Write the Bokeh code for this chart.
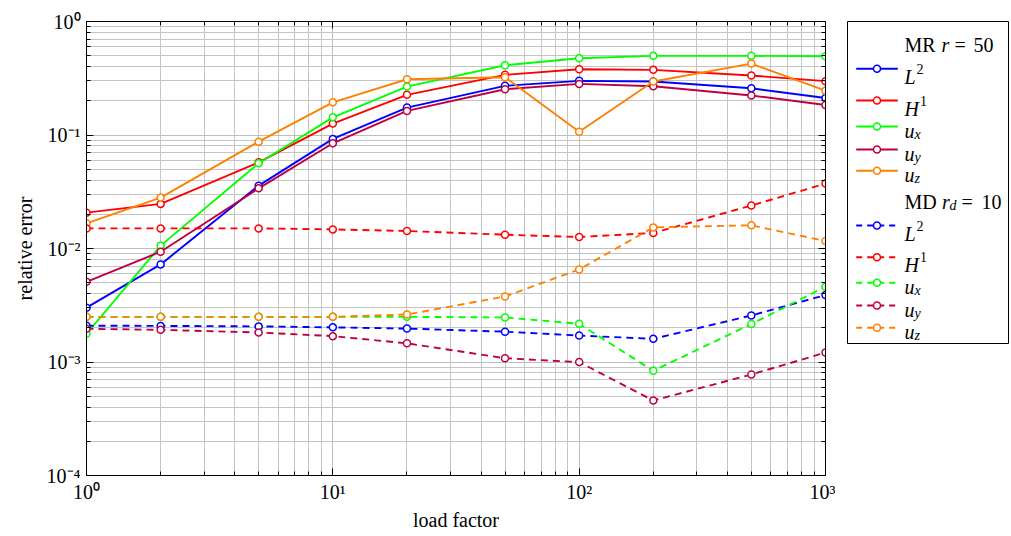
from bokeh.plotting import figure
from bokeh.models import Range1d, LogAxis, FixedTicker, CustomJSTickFormatter
from bokeh.layouts import row
from bokeh.embed import file_html
from bokeh.resources import INLINE
from bokeh.core.properties import value

# ---------------- data ----------------
load_factor = [1, 2, 5, 10, 20, 50, 100, 200, 500, 1000]

mr_L2 = [3.01e-3, 7.24e-3, 0.0358, 0.0924, 0.1745, 0.271, 0.300, 0.296, 0.258, 0.212]
mr_H1 = [0.0207, 0.0247, 0.0574, 0.126, 0.226, 0.339, 0.380, 0.375, 0.334, 0.298]
mr_ux = [1.77e-3, 0.0106, 0.0563, 0.143, 0.267, 0.412, 0.475, 0.498, 0.498, 0.494]
mr_uy = [5.09e-3, 9.37e-3, 0.0339, 0.0845, 0.163, 0.253, 0.282, 0.269, 0.223, 0.184]
mr_uz = [0.01665, 0.0281, 0.0874, 0.194, 0.310, 0.323, 0.107, 0.296, 0.426, 0.246]

md_L2 = [2.09e-3, 2.08e-3, 2.06e-3, 2.02e-3, 1.97e-3, 1.85e-3, 1.71e-3, 1.60e-3, 2.57e-3, 3.89e-3]
md_H1 = [0.01504, 0.01504, 0.01504, 0.01473, 0.01426, 0.01323, 0.01263, 0.01370, 0.0239, 0.0373]
md_ux = [2.50e-3, 2.50e-3, 2.50e-3, 2.50e-3, 2.50e-3, 2.47e-3, 2.17e-3, 8.37e-4, 2.16e-3, 4.60e-3]
md_uy = [1.96e-3, 1.92e-3, 1.82e-3, 1.69e-3, 1.46e-3, 1.08e-3, 9.98e-4, 4.58e-4, 7.76e-4, 1.21e-3]
md_uz = [2.50e-3, 2.50e-3, 2.50e-3, 2.50e-3, 2.62e-3, 3.78e-3, 6.54e-3, 0.01535, 0.0160, 0.01164]

x_major = [1, 10, 100, 1000]
x_labels = ["10⁰", "10¹", "10²", "10³"]
y_major = [1e-4, 1e-3, 1e-2, 1e-1, 1]
y_labels = ["10⁻⁴", "10⁻³", "10⁻²", "10⁻¹", "10⁰"]

colors = {"L2": "#0000FF", "H1": "#FF0000", "ux": "#00FF00", "uy": "#BF0040", "uz": "#FF8000"}

mr_series = [("L2", mr_L2), ("H1", mr_H1), ("ux", mr_ux), ("uy", mr_uy), ("uz", mr_uz)]
md_series = [("L2", md_L2), ("H1", md_H1), ("ux", md_ux), ("uy", md_uy), ("uz", md_uz)]

FONT = "Liberation Serif"
DASH = "7 5"
LINE_W = 1.9

# ---------------- main plot ----------------
p = figure(x_axis_type="log", y_axis_type="log",
           x_range=Range1d(1, 1000), y_range=Range1d(1e-4, 1),
           frame_width=739, frame_height=454,
           min_border_left=86, min_border_right=10, min_border_top=20, min_border_bottom=60,
           output_backend="svg", toolbar_location=None,
           x_axis_label="load factor", y_axis_label="relative error")
p.background_fill_color = "white"
p.border_fill_color = "white"
p.outline_line_color = "black"
p.outline_line_width = 1


def minors(majors):
    out = []
    for m in majors[:-1]:
        out += [m * k for k in range(2, 10)]
    return out


xt = FixedTicker(ticks=x_major, minor_ticks=minors(x_major))
yt = FixedTicker(ticks=y_major, minor_ticks=minors(y_major))

p.xaxis.ticker = xt
p.yaxis.ticker = yt
p.xgrid.ticker = xt
p.ygrid.ticker = yt

for g in (p.xgrid, p.ygrid):
    g.grid_line_color = "#bdbdbd"
    g.grid_line_width = 1
    g.minor_grid_line_color = "#c4c4c4"
    g.minor_grid_line_width = 1


def style_axis(ax, font=FONT):
    ax.axis_line_color = "black"
    ax.axis_line_width = 1
    ax.major_tick_in = 7
    ax.major_tick_out = 0
    ax.minor_tick_in = 4
    ax.minor_tick_out = 0
    ax.major_tick_line_color = "black"
    ax.minor_tick_line_color = "black"
    ax.major_label_text_font = font
    ax.major_label_text_color = "black"
    ax.major_label_text_font_size = "20px"
    ax.major_label_standoff = 6
    ax.axis_label_text_font = FONT
    ax.axis_label_text_font_style = "normal"
    ax.axis_label_text_font_size = "20px"
    ax.axis_label_text_color = "black"


xa = p.xaxis[0]
ya = p.yaxis[0]
style_axis(xa)
style_axis(ya)
xa.major_label_overrides = dict(zip(x_major, x_labels))
ya.major_label_overrides = dict(zip(y_major, y_labels))
xa.major_label_standoff = 5
xa.axis_label_standoff = 3
ya.axis_label_standoff = 8

blank = CustomJSTickFormatter(code="return ''")
top = LogAxis(ticker=xt, formatter=blank)
style_axis(top)
top.major_label_standoff = 0
p.add_layout(top, "above")
right = LogAxis(ticker=yt, formatter=blank)
style_axis(right)
right.major_label_standoff = 0
p.add_layout(right, "right")

for name, vals in mr_series:
    c = colors[name]
    p.line(load_factor, vals, line_color=c, line_width=LINE_W)
    p.scatter(load_factor, vals, marker="circle", size=7, line_color=c,
              fill_color="white", line_width=1.5)
for name, vals in md_series:
    c = colors[name]
    p.line(load_factor, vals, line_color=c, line_width=LINE_W, line_dash=DASH)
    p.scatter(load_factor, vals, marker="circle", size=7, line_color=c,
              fill_color="white", line_width=1.5)

# ---------------- legend (separate panel) ----------------
LW, LH = 162, 322
lg = figure(x_range=Range1d(0, LW), y_range=Range1d(0, LH),
            frame_width=LW, frame_height=LH,
            min_border_left=12, min_border_right=0, min_border_top=21, min_border_bottom=191,
            x_axis_type=None, y_axis_type=None,
            output_backend="svg", toolbar_location=None)
lg.background_fill_color = "white"
lg.border_fill_color = "white"
lg.outline_line_color = "black"
lg.outline_line_width = 1
lg.xgrid.visible = False
lg.ygrid.visible = False

# layout constants of the legend (panel pixels from top)
sample_x0, sample_mid, sample_x1 = 8.7, 29.5, 50.3
text_x = 57
row_y_mr = [47.3, 79, 105, 128, 149.3]
row_y_md = [204, 235.7, 261.3, 284, 306.3]
header_y = [23.3, 180.7]

main_sym = {"L2": "L", "H1": "H", "ux": "u", "uy": "u", "uz": "u"}
idx_sym = {"L2": "2", "H1": "1", "ux": "x", "uy": "y", "uz": "z"}


def fy(y):
    return LH - y


def ltext(x, y, t, size="20px", style="normal"):
    lg.text(x=[x], y=[fy(y)], text=[t], text_font=value(FONT), text_font_size=size,
            text_font_style=style, text_baseline="alphabetic", text_align="left",
            text_color="black")


def entry(name, y, dash):
    c = colors[name]
    kw = dict(line_color=c, line_width=LINE_W)
    if dash:
        kw["line_dash"] = "6 5"
    lg.line([sample_x0, sample_x1], [fy(y), fy(y)], **kw)
    lg.scatter([sample_mid], [fy(y)], marker="circle", size=7, line_color=c,
               fill_color="white", line_width=1.5)
    if name in ("L2", "H1"):
        base = y + 8
        ltext(text_x, base, main_sym[name], style="italic")
        off = 12 if name == "L2" else 15.5
        ltext(text_x + off, base - 8, idx_sym[name], size="14px")
    else:
        base = y + 4
        ltext(text_x, base, "u", style="italic")
        ltext(text_x + 10, base + 3.5, idx_sym[name], size="14px", style="italic")


# header MR r = 50
ltext(text_x, header_y[0], "MR")
ltext(text_x + 37, header_y[0], "r", style="italic")
ltext(text_x + 50, header_y[0], "=")
ltext(text_x + 69, header_y[0], "50")
for (name, _), y in zip(mr_series, row_y_mr):
    entry(name, y, False)

# header MD r_d = 10
ltext(text_x, header_y[1], "MD")
ltext(text_x + 37.5, header_y[1], "r", style="italic")
ltext(text_x + 45, header_y[1] + 3.5, "d", size="14px", style="italic")
ltext(text_x + 57, header_y[1], "=")
ltext(text_x + 77, header_y[1], "10")
for (name, _), y in zip(md_series, row_y_md):
    entry(name, y, True)

layout = row(p, lg)
open("out.html", "w").write(file_html(layout, INLINE))
